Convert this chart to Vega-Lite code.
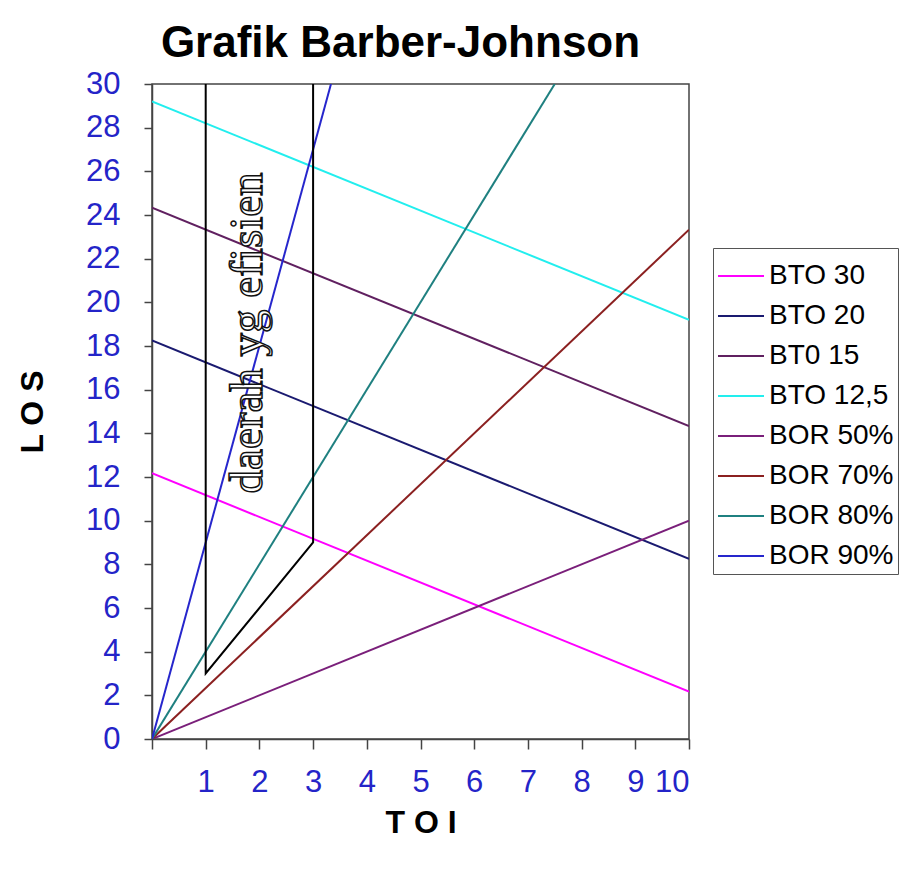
{
  "$schema": "https://vega.github.io/schema/vega-lite/v6.json",
  "width": 537,
  "height": 655,
  "autosize": {"type": "none"},
  "padding": {"left": 152, "top": 84, "right": 222, "bottom": 131},
  "background": "white",
  "title": {
    "text": "Grafik Barber-Johnson",
    "font": "Liberation Sans",
    "fontSize": 44,
    "fontWeight": "bold",
    "color": "black",
    "anchor": "middle",
    "dx": -20,
    "offset": 2
  },
  "config": {
    "view": {"stroke": "#444", "strokeWidth": 1.5},
    "axis": {
      "grid": false,
      "domainColor": "#444",
      "domainWidth": 1.5,
      "tickColor": "#444",
      "tickWidth": 1.5,
      "labelFont": "Liberation Sans",
      "labelFontSize": 31,
      "labelColor": "#2424c8",
      "titleFont": "Liberation Sans",
      "titleFontSize": 32,
      "titleFontWeight": "bold",
      "titleColor": "black"
    }
  },
  "datasets": {
    "lines": [
      {"series": "BTO 30", "toi": 0, "los": 12.17},
      {"series": "BTO 30", "toi": 10, "los": 2.17},
      {"series": "BTO 20", "toi": 0, "los": 18.25},
      {"series": "BTO 20", "toi": 10, "los": 8.25},
      {"series": "BT0 15", "toi": 0, "los": 24.33},
      {"series": "BT0 15", "toi": 10, "los": 14.33},
      {"series": "BTO 12,5", "toi": 0, "los": 29.2},
      {"series": "BTO 12,5", "toi": 10, "los": 19.2},
      {"series": "BOR 50%", "toi": 0, "los": 0},
      {"series": "BOR 50%", "toi": 10, "los": 10},
      {"series": "BOR 70%", "toi": 0, "los": 0},
      {"series": "BOR 70%", "toi": 10, "los": 23.33},
      {"series": "BOR 80%", "toi": 0, "los": 0},
      {"series": "BOR 80%", "toi": 7.5, "los": 30},
      {"series": "BOR 90%", "toi": 0, "los": 0},
      {"series": "BOR 90%", "toi": 3.333, "los": 30}
    ],
    "region": [
      {"pt": 1, "toi": 1, "los": 30},
      {"pt": 2, "toi": 1, "los": 3},
      {"pt": 3, "toi": 3, "los": 9},
      {"pt": 4, "toi": 3, "los": 30}
    ],
    "label": [
      {"toi": 1.78, "los": 18.6, "text": "daerah yg efisien"}
    ]
  },
  "layer": [
    {
      "data": {"name": "lines"},
      "mark": {"type": "line", "strokeWidth": 2, "clip": true},
      "encoding": {
        "x": {
          "field": "toi",
          "type": "quantitative",
          "scale": {"domain": [0, 10], "nice": false},
          "axis": {
            "title": "T O I",
            "values": [0, 1, 2, 3, 4, 5, 6, 7, 8, 9, 10],
            "labelExpr": "datum.value == 0 ? '' : datum.label",
            "tickSize": 10,
            "labelPadding": 18,
            "titlePadding": 10
          }
        },
        "y": {
          "field": "los",
          "type": "quantitative",
          "scale": {"domain": [0, 30], "nice": false},
          "axis": {
            "title": "L O S",
            "values": [0, 2, 4, 6, 8, 10, 12, 14, 16, 18, 20, 22, 24, 26, 28, 30],
            "tickSize": 8,
            "labelPadding": 24,
            "titlePadding": 36
          }
        },
        "color": {
          "field": "series",
          "type": "nominal",
          "scale": {
            "domain": ["BTO 30", "BTO 20", "BT0 15", "BTO 12,5", "BOR 50%", "BOR 70%", "BOR 80%", "BOR 90%"],
            "range": ["#ff00ff", "#1a1a70", "#602060", "#22eeee", "#7a1f7a", "#8b2020", "#1f8080", "#2626cc"]
          },
          "legend": {
            "orient": "none",
            "legendX": 561,
            "legendY": 164,
            "title": null,
            "strokeColor": "#555",
            "fillColor": "white",
            "padding": 4,
            "symbolType": "stroke",
            "symbolSize": 2116,
            "symbolStrokeWidth": 2,
            "labelFont": "Liberation Sans",
            "labelFontSize": 28,
            "labelColor": "black",
            "labelOffset": 4,
            "rowPadding": 2
          }
        }
      }
    },
    {
      "data": {"name": "region"},
      "mark": {"type": "line", "color": "black", "strokeWidth": 2},
      "encoding": {
        "x": {"field": "toi", "type": "quantitative"},
        "y": {"field": "los", "type": "quantitative"},
        "order": {"field": "pt", "type": "quantitative"}
      }
    },
    {
      "data": {"name": "label"},
      "mark": {
        "type": "text",
        "angle": 270,
        "font": "Liberation Serif",
        "fontSize": 47,
        "align": "center",
        "baseline": "middle",
        "fill": "white",
        "stroke": "#111",
        "strokeWidth": 1.5
      },
      "encoding": {
        "x": {"field": "toi", "type": "quantitative"},
        "y": {"field": "los", "type": "quantitative"},
        "text": {"field": "text"}
      }
    }
  ]
}
